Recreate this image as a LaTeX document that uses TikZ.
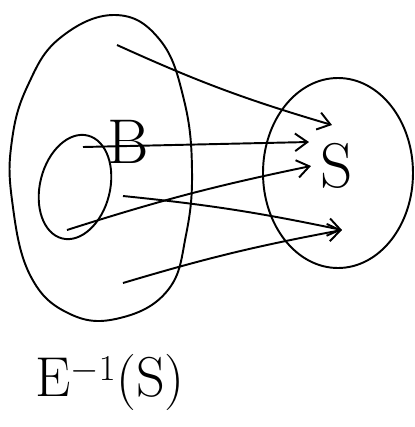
\documentclass[tikz,border=0pt]{standalone}
\usepackage{tikz}
\usetikzlibrary{arrows.meta,shapes.geometric}

\begin{document}
\begin{tikzpicture}[x=0.02cm, y=-0.02cm,
    % --- Set styles ---
    set curve/.style={draw, line width=1.1pt, line join=round},
    set oval/.style={draw, line width=1.1pt, ellipse, inner sep=0pt},
    set label/.style={font=\fontsize{36}{40}\selectfont},
    caption label/.style={font=\fontsize{32}{36}\selectfont},
    % --- Map arrows ---
    maps to/.style={line width=1.1pt, -{Straight Barb[length=7pt, width=10pt]}},
]
\useasboundingbox (0,0) rectangle (414,427);

% ============================================================
% Preimage E^{-1}(S): large blob with subset B inside
% ============================================================
\draw[set curve] plot[smooth cycle, tension=0.7] coordinates {
    (115,15) (160,40) (184,100) (192,170) (186,235) (168,290)
    (120,318) (70,314) (30,275) (12,200) (12,140) (28,85) (60,38)};

\node[set oval, minimum width=70*0.02cm, minimum height=106*0.02cm, rotate=-14]
    (Bset) at (75,187) {};
\node[set label] (Blabel) at (128,142) {B};

% --- Set S on the right ---
\node[set oval, minimum width=150*0.02cm, minimum height=190*0.02cm]
    (Sset) at (338,173) {};
\node[set label] (Slabel) at (337,166) {S};

% --- Caption ---
\node[caption label] (preimage) at (110,382) {E$^{-1}$(S)};

% ============================================================
% Arrows from the preimage into S
% ============================================================
\coordinate (src1) at (117,45);
\coordinate (src2) at (83,147);
\coordinate (src3) at (67,230);
\coordinate (src4) at (123,196);
\coordinate (src5) at (123,283);

\coordinate (dst1) at (332,125);
\coordinate (dst2) at (309,142);
\coordinate (dst3) at (311,166);
\coordinate (dst4) at (342,230);

\draw[maps to] (src1) to[bend right=4] (dst1);
\draw[maps to] (src2) -- (dst2);
\draw[maps to] (src3) to[bend left=3] (dst3);
\draw[maps to] (src4) to[bend left=3] (dst4);
\draw[maps to] (src5) to[bend left=3] (dst4);

\end{tikzpicture}
\end{document}
